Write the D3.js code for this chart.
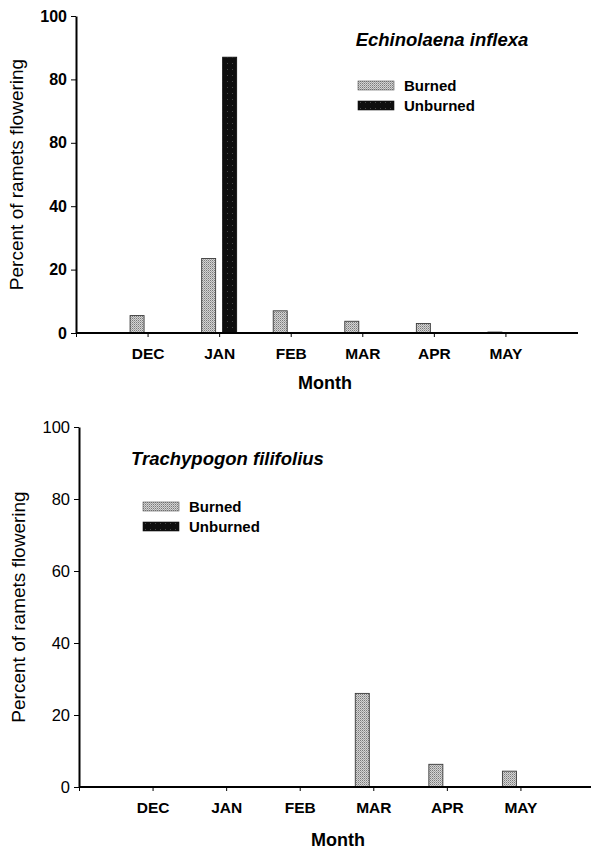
<!DOCTYPE html>
<html>
<head>
<meta charset="utf-8">
<script src="https://cdn.jsdelivr.net/npm/d3@7"></script>
<style>
  body { margin: 0; background: #fff; }
  svg { display: block; font-family: Arial, "Liberation Sans", sans-serif; }
</style>
</head>
<body>
<svg id="chart" width="591" height="850"></svg>
<script>
// ---- data ----
const months = ["DEC", "JAN", "FEB", "MAR", "APR", "MAY"];
const series = ["Burned", "Unburned"];
const echinolaenaBurned   = [5.5, 23.5, 7, 3.7, 3, 0.3];
const echinolaenaUnburned = [0, 87, 0, 0, 0, 0];
const trachypogonBurned   = [0, 0, 0, 26, 6.3, 4.4];
const trachypogonUnburned = [0, 0, 0, 0, 0, 0];
const yTickValues = [0, 20, 40, 60, 80, 100];
const topTickLabels = ["0", "20", "40", "80", "80", "100"];   // as printed in the original
const bottomTickLabels = ["0", "20", "40", "60", "80", "100"];
const topTitle = "Echinolaena inflexa";
const bottomTitle = "Trachypogon filifolius";
const yLabel = "Percent of ramets flowering";
const xLabel = "Month";

const svg = d3.select("#chart");
const defs = svg.append("defs");

// stipple pattern for Burned
const pb = defs.append("pattern").attr("id", "burned").attr("patternUnits", "userSpaceOnUse")
  .attr("width", 2).attr("height", 2);
pb.append("rect").attr("width", 2).attr("height", 2).attr("fill", "#d4d4d4");
pb.append("rect").attr("x", 0).attr("y", 0).attr("width", 1).attr("height", 1).attr("fill", "#7a7a7a");
pb.append("rect").attr("x", 1).attr("y", 1).attr("width", 1).attr("height", 1).attr("fill", "#a4a4a4");

// dark pattern for Unburned
const pu = defs.append("pattern").attr("id", "unburned").attr("patternUnits", "userSpaceOnUse")
  .attr("width", 5).attr("height", 6);
pu.append("rect").attr("width", 5).attr("height", 6).attr("fill", "#0e0e0e");
pu.append("rect").attr("x", 2).attr("y", 3).attr("width", 1).attr("height", 1).attr("fill", "#4a4a4a");

const fills = { Burned: "url(#burned)", Unburned: "url(#unburned)" };

function drawPanel(cfg) {
  const g = svg.append("g");
  const x = d3.scaleLinear().domain([0, 7]).range([cfg.x0, cfg.x1]);
  const y = d3.scaleLinear().domain([0, 100]).range([cfg.yBottom, cfg.yTop]);

  // bars
  const data = [];
  months.forEach((m, i) => {
    data.push({ s: "Burned", i: i + 1, v: cfg.burned[i] });
    data.push({ s: "Unburned", i: i + 1, v: cfg.unburned[i] });
  });
  g.selectAll("rect.bar").data(data.filter(d => d.v > 0)).join("rect")
    .attr("class", "bar")
    .attr("x", d => x(d.i) + (d.s === "Burned" ? cfg.offB : cfg.offU))
    .attr("width", cfg.barW)
    .attr("y", d => y(d.v))
    .attr("height", d => y(0) - y(d.v))
    .attr("fill", d => fills[d.s])
    .attr("stroke", d => d.s === "Burned" ? "#3a3a3a" : "#111")
    .attr("stroke-width", 0.9);

  // x axis
  const xAxis = d3.axisBottom(x).tickValues([0, 1, 2, 3, 4, 5, 6])
    .tickFormat(d => d === 0 ? "" : months[d - 1]).tickSize(4).tickSizeOuter(0).tickPadding(11);
  const gx = g.append("g").attr("transform", `translate(0,${cfg.yBottom})`).call(xAxis);
  gx.select(".domain").remove();
  gx.append("line").attr("x1", cfg.x0).attr("x2", cfg.xEnd).attr("y1", 0).attr("y2", 0)
    .attr("stroke", "#000").attr("stroke-width", 2);
  gx.selectAll(".tick line").attr("stroke", "#000").attr("stroke-width", 1);
  gx.selectAll(".tick text").attr("fill", "#000").attr("font-size", 15.5).attr("font-weight", "bold")
    .attr("font-family", "Arial, 'Liberation Sans', sans-serif");

  // y axis
  const yAxis = d3.axisLeft(y).tickValues(yTickValues)
    .tickFormat((d, i) => cfg.tickLabels[i]).tickSize(5).tickSizeOuter(0).tickPadding(4);
  const gy = g.append("g").attr("transform", `translate(${cfg.x0},0)`).call(yAxis);
  gy.select(".domain").attr("stroke", "#000").attr("stroke-width", 2);
  gy.selectAll(".tick line").attr("stroke", "#000");
  gy.selectAll(".tick text").attr("fill", "#000").attr("font-size", cfg.tickSize)
    .attr("font-weight", cfg.tickWeight).attr("font-family", "Arial, 'Liberation Sans', sans-serif");

  // y label
  g.append("text").attr("transform", `translate(${cfg.yLabelX},${(cfg.yTop + cfg.yBottom) / 2}) rotate(-90)`)
    .attr("text-anchor", "middle").attr("font-size", 19).attr("fill", "#000").text(yLabel);

  // x label
  g.append("text").attr("x", cfg.monthX).attr("y", cfg.monthY).attr("text-anchor", "middle")
    .attr("font-size", 18).attr("font-weight", "bold").attr("fill", "#000").text(xLabel);

  // title
  g.append("text").attr("x", cfg.titleX).attr("y", cfg.titleY).attr("text-anchor", cfg.titleAnchor)
    .attr("font-size", cfg.titleSize).attr("font-weight", "bold").attr("font-style", "italic")
    .attr("fill", "#000").text(cfg.title);

  // legend
  const lg = g.append("g").attr("transform", `translate(${cfg.legX},${cfg.legY})`);
  series.forEach((s, i) => {
    lg.append("rect").attr("x", 0).attr("y", i * 20).attr("width", 36).attr("height", 9)
      .attr("fill", fills[s]).attr("stroke", s === "Burned" ? "#555" : "#111").attr("stroke-width", 0.6);
    lg.append("text").attr("x", 46).attr("y", i * 20 + 10).attr("font-size", 15)
      .attr("font-weight", "bold").attr("fill", "#000").text(s);
  });
}

drawPanel({
  x0: 76, x1: 577, xEnd: 578, yTop: 16, yBottom: 333,
  burned: echinolaenaBurned, unburned: echinolaenaUnburned,
  barW: 14, offB: -17.5, offU: 3.5,
  tickLabels: topTickLabels, tickSize: 16, tickWeight: "bold",
  yLabelX: 23, monthX: 325, monthY: 389,
  title: topTitle, titleX: 442, titleY: 46, titleAnchor: "middle", titleSize: 18.5,
  legX: 358, legY: 81
});

drawPanel({
  x0: 79, x1: 594, xEnd: 591, yTop: 427, yBottom: 787,
  burned: trachypogonBurned, unburned: trachypogonUnburned,
  barW: 14, offB: -18, offU: 3.5,
  tickLabels: bottomTickLabels, tickSize: 16.5, tickWeight: "normal",
  yLabelX: 25, monthX: 338, monthY: 846,
  title: bottomTitle, titleX: 131, titleY: 465, titleAnchor: "start", titleSize: 18.5,
  legX: 143, legY: 502
});
</script>
</body>
</html>
